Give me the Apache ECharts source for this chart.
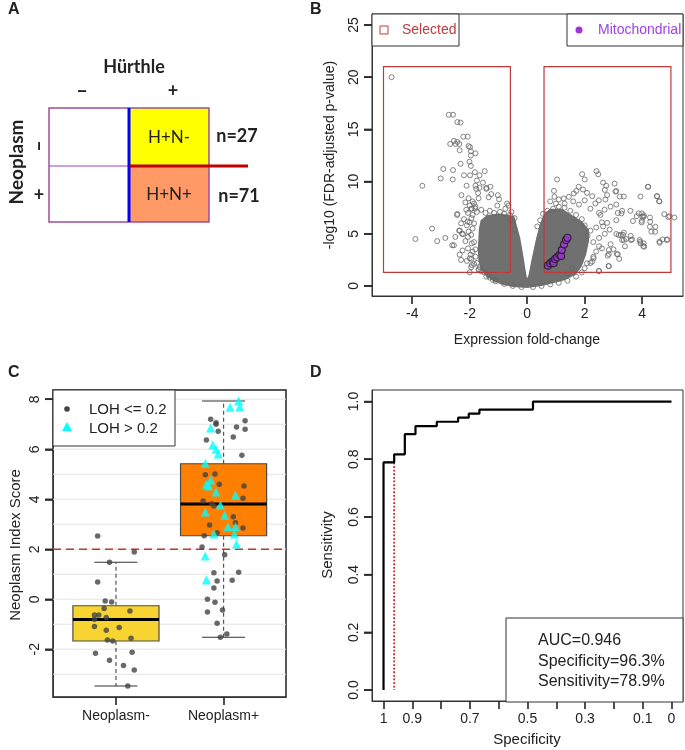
<!DOCTYPE html>
<html>
<head>
<meta charset="utf-8">
<script src="https://cdn.jsdelivr.net/npm/echarts@6/dist/echarts.min.js"></script>
<style>html,body{margin:0;padding:0;background:#fff}#main{width:685px;height:750px}</style>
</head>
<body>
<div id="main"></div>
<script>
var FONT = '"Liberation Sans", Arial, sans-serif';
var FONT_A = 'Lato, "Open Sans", sans-serif';

// ---- panel A
var cellLabels = ['H+N-', 'H+N+'];
var cellCounts = [27, 71];

// ---- panel B (volcano)
var fcTicks = [-4, -2, 0, 2, 4];
var pTicks = [0, 5, 10, 15, 20, 25];
var selectBoxes = [[-5, 1.3, -0.585, 21], [0.585, 1.3, 5, 21]];
// outline of the dense cloud of overlapping genes near the origin
var coreOutline = [[0.0,-0.2],[-0.5,-0.1],[-0.9,0.15],[-1.2,0.5],[-1.45,1.0],[-1.62,1.6],[-1.7,2.5],[-1.72,3.5],[-1.7,4.5],[-1.68,5.5],[-1.62,6.3],[-1.4,6.8],[-1.0,6.95],[-0.7,6.85],[-0.45,6.7],[-0.36,5.8],[-0.24,4.56],[-0.12,2.65],[-0.03,1.05],[0.0,0.75],[0.045,1.05],[0.16,2.65],[0.31,4.56],[0.45,6.0],[0.6,7.0],[0.8,7.4],[1.2,7.4],[1.5,6.9],[1.9,6.2],[2.15,5.4],[2.15,4.3],[2.05,3.0],[1.9,1.9],[1.7,1.1],[1.3,0.55],[0.9,0.25],[0.5,0.0]];
var genesLeft = [[-4.72,20.0],[-2.73,16.4],[-2.58,16.4],[-2.43,15.7],[-2.32,15.65],[-2.22,14.3],[-2.07,14.3],[-2.55,13.9],[-2.68,13.6],[-2.43,13.8],[-2.36,13.6],[-2.49,13.6],[-2.04,13.4],[-1.99,13.3],[-2.35,13.0],[-1.96,12.9],[-1.80,12.7],[-1.96,12.5],[-2.01,11.9],[-2.32,11.7],[-1.96,11.5],[-2.92,11.2],[-2.58,11.1],[-1.48,11.0],[-1.82,10.9],[-1.66,10.6],[-2.2,10.6],[-1.99,10.6],[-3.01,10.3],[-2.59,10.2],[-1.75,10.1],[-1.54,9.9],[-3.65,9.6],[-2.11,9.6],[-1.8,9.6],[-1.66,9.4],[-1.28,9.5],[-1.42,9.4],
  [-2.29,8.7],[-2.04,8.4],[-1.42,9.3],[-1.25,8.8],[-1.34,8.5],[-1.02,8.7],[-0.98,8.3],[-1.77,9.3],[-1.71,8.9],[-1.69,8.4],[-1.85,7.9],[-1.94,7.4],[-2.06,7.0],[-0.65,7.7],[-0.76,7.4],[-1.04,7.7],[-2.12,7.3],[-2.43,6.9],[-0.44,6.5],[-3.31,5.5],[-3.89,4.5],[-3.13,4.3],[-2.85,4.6],[-2.5,4.7],[-2.61,3.9],[-2.34,5.3],[-2.27,5.0],[-2.06,4.7],[-2.06,3.6],[-1.97,3.0],[-1.94,2.6],[-1.85,2.1],[-2.04,5.2],[-1.94,6.5],[-2.0,6.1],[-1.69,1.6],[-1.6,1.4],[-1.34,1.0],[-1.11,0.6],
  [-2.44,6.8],[-2.37,5.3],[-2.23,4.96],[-2.08,6.16],[-1.93,7.4],[-1.81,7.4],[-2.55,3.9],[-1.93,4.08],[-2.0,2.65],[-1.93,2.0],[-1.68,1.53],[-1.42,0.9],[-1.2,0.58],
  [-2.15,8.0],[-2.0,7.7],[-1.9,8.1],[-1.8,7.6],[-2.2,6.4],[-2.1,5.8],[-2.3,6.0],[-2.15,4.3],[-2.25,3.4],[-2.1,2.4],[-1.95,1.8],[-2.35,3.0],[-2.3,2.5],[-2.0,1.3],
  [-0.6,6.3],[-0.5,5.9],[-0.55,7.1],[-0.45,5.4],[-0.7,7.9]];
var genesRight = [[1.91,10.71],[2.41,11.0],[2.47,10.7],[1.04,10.2],[2.0,10.2],[2.64,9.9],[2.75,9.6],[2.70,9.2],[3.04,9.8],[3.10,9.1],[4.2,9.5],[1.79,9.5],[1.94,9.24],[1.71,9.11],[1.62,8.86],[1.45,8.54],[1.27,8.38],[1.10,8.28],[0.93,9.11],[0.95,8.54],[2.08,8.92],[2.26,8.6],[2.49,8.2],[2.37,7.9],[2.78,8.7],[2.72,8.28],[3.07,9.04],[3.22,8.57],[3.36,8.57],[3.94,8.57],[4.51,8.6],[4.6,8.1],[3.59,7.2],[3.88,6.95],[3.99,6.95],[4.05,6.63],[3.99,6.25],[3.15,6.99],[3.28,6.95],[3.68,6.22],[3.10,6.3],[4.77,6.88],[4.95,6.69],[5.12,6.56],[4.28,6.15],[4.46,5.67],[4.32,5.2],[4.86,4.4],[4.6,4.24],[4.05,4.08],[3.91,4.4],[3.36,4.4],[3.26,4.88],[3.10,4.98],[3.36,5.1],[3.61,4.4],[2.69,7.3],[2.55,6.8],[2.78,6.05],[2.64,5.7],[2.87,5.4],
  [3.18,4.88],[3.30,4.4],[3.65,4.46],[3.94,4.08],[4.07,3.76],[4.61,4.14],[2.84,3.44],[2.84,3.06],[3.15,3.03],[2.84,1.9],[2.49,1.43],[2.31,2.65],[2.26,2.33],[2.08,2.17],[1.56,1.69],[1.39,1.21],
  [4.91,6.6],[4.52,8.6],[4.59,8.12],[4.21,9.5],[4.06,6.76],[4.01,6.63],[3.81,6.69],[4.27,6.56],[3.98,6.09],[4.45,5.19],[4.27,5.67],[4.71,4.46],[4.87,4.46],[3.93,4.24],[4.04,3.82],[3.12,3.06],[2.83,1.91],[2.5,1.44],[3.6,4.8],[3.44,4.5],[3.33,4.9],
  [2.6,6.1],[2.4,5.6],[2.7,5.0],[2.5,4.6],[2.9,4.0],[2.6,3.6],[2.8,2.9],[3.0,3.5],[3.4,3.8],[3.2,2.6],[2.2,7.4],[2.5,7.0],[1.8,7.8],[2.0,8.2],[1.6,8.1],[1.3,7.9],[2.9,7.6],[3.1,7.8],[3.3,7.2],[1.0,7.9],[0.8,8.1]];
var genesEdge = [[-1.9,6.8],[-1.75,7.1],[-1.6,7.3],[-1.45,7.0],[-1.3,7.2],[-1.15,7.0],[-0.95,7.1],[-0.8,6.9],[-0.6,6.8],[-0.5,6.2],[-1.85,6.0],[-1.9,5.5],[-1.95,4.9],[-1.85,4.2],[-1.8,3.5],[-1.9,3.3],[-1.8,2.8],[-1.75,2.2],[-1.65,1.8],[-1.5,1.3],[-1.3,0.8],[-1.1,0.45],[-0.8,0.2],[-0.5,0.0],[-0.2,-0.1],[0.2,-0.1],[0.5,0.0],[0.8,0.15],[1.1,0.3],[1.4,0.5],[1.7,0.9],[1.9,1.3],[2.0,1.7],[2.2,2.2],[2.3,2.8],[2.4,3.3],[2.5,3.8],[2.3,4.2],[2.1,4.8],[2.2,5.3],[2.0,5.8],[1.9,6.4],[1.7,6.8],[1.5,7.2],[1.3,7.5],[1.1,7.6],[0.9,7.4],[0.7,7.2],[0.55,6.9],[0.45,6.3],[0.35,5.7]];
var mitoGenes = [[0.72,1.94],[0.80,2.17],[0.88,2.33],[0.92,2.17],[0.97,2.58],[1.04,2.74],[1.12,2.96],[1.18,2.87],[1.20,3.44],[1.28,3.98],[1.35,4.4],[1.40,4.62]];

// ---- panel C (box plots)
var groups = ['Neoplasm-', 'Neoplasm+'];
var scoreTicks = [-2, 0, 2, 4, 6, 8];
var boxStats = [[-3.47, -1.67, -0.81, -0.26, 1.48], [-1.52, 2.54, 3.81, 5.42, 7.93]];
var boxColors = ['#f7d431', '#ff7f00'];
var gridVals = [-3, -2, -1, 0, 1, 2, 3, 4, 5, 6, 7, 8];
var scoreCutoff = 2;
// [jittered group position, score]
var lohLow = [[0.83,2.53],[1.17,1.89],[0.94,1.48],[0.83,0.69],[0.90,-0.07],[0.96,-0.11],[0.89,-0.37],[1.13,-0.47],[0.80,-0.63],[0.84,-0.63],[0.80,-0.8],[0.91,-0.73],[0.80,-1.09],[1.03,-1.13],[0.91,-1.24],[0.92,-1.63],[0.97,-1.67],[1.14,-1.56],[0.81,-2.16],[1.15,-2.12],[0.94,-2.44],[1.07,-2.65],[1.17,-2.83],[1.11,-3.47],
  [1.88,7.2],[1.93,7.06],[1.93,7.0],[2.20,7.14],[2.12,6.89],[2.20,6.8],[1.95,6.72],[1.84,6.37],[2.09,6.49],[2.17,5.76],[1.83,4.98],[1.92,5.01],[1.96,4.6],[2.19,4.53],[2.18,4.04],[1.81,3.93],[1.89,3.82],[1.91,3.73],[2.09,3.3],[2.11,3.06],[1.87,2.97],[2.18,2.85],[1.94,2.66],[1.82,2.54],[1.80,2.09],[2.01,1.78],[1.91,1.06],[2.14,1.08],[1.94,0.73],[2.08,0.76],[1.91,0.45],[1.85,0.0],[1.92,-0.12],[1.99,-0.43],[1.85,-0.51],[1.94,-0.96],[2.03,-1.39],[1.97,-1.52]];
var lohHigh = [[2.14,7.94],[2.06,7.68],[2.15,7.70],[1.88,6.85],[1.90,6.17],[1.93,6.0],[1.95,5.81],[1.83,5.44],[1.88,4.77],[1.84,4.6],[1.86,4.53],[1.93,4.29],[2.11,4.16],[1.97,3.77],[1.83,3.49],[2.01,3.36],[2.04,2.9],[2.11,2.9],[2.10,2.61],[1.91,2.61],[2.12,2.21],[1.83,1.73],[1.84,0.77]];

// ---- panel D (ROC)
var rocSpec = [1, 1, 0.963, 0.926, 0.889, 0.815, 0.741, 0.704, 0.667, 0.481, 0.370, 0];
var rocSens = [0, 0.761, 0.789, 0.817, 0.887, 0.915, 0.930, 0.944, 0.958, 0.972, 1.0, 1.0];
var cutSpec = 0.963, cutSens = 0.789;
var specTicks = [0, 0.1, 0.2, 0.3, 0.4, 0.5, 0.6, 0.7, 0.8, 0.9, 1];
var specLabels = [1, 0.9, 0.7, 0.5, 0.3, 0.1, 0];
var sensTicks = [0, 0.2, 0.4, 0.6, 0.8, 1];

// x value at the left edge of each grid (D is reversed)
var xLeftEdge = [-5.4, 0.415, 1.04];
var yTickSets = [pTicks, scoreTicks, sensTicks];

function axis(gi, min, max, ticks, labels, extra) {
  var a = {
    type: 'value', gridIndex: gi, min: min, max: max,
    axisLine: {show: true, onZero: false, lineStyle: {color: '#333', width: 1}}, splitLine: {show: false},
    axisTick: {show: true, inside: false, length: 8, customValues: ticks, lineStyle: {color: '#222', width: 1.6}},
    axisLabel: {customValues: labels || ticks, fontSize: 14, color: '#222', fontFamily: FONT, margin: 11, hideOverlap: false, showMinLabel: true, showMaxLabel: true}
  };
  if (extra && extra.label) { Object.assign(a.axisLabel, extra.label); delete extra.label; }
  return Object.assign(a, extra || {});
}

// short dash at the left edge of a grid for every y tick value
function yTickMarks(gi) {
  return {
    type: 'scatter', xAxisIndex: gi, yAxisIndex: gi, clip: false, silent: true, z: 20,
    data: yTickSets[gi].map(function (v) { return [xLeftEdge[gi], v]; }),
    symbol: 'rect', symbolSize: [8, 1.6], symbolOffset: [-4, 0],
    itemStyle: {color: '#222'}
  };
}

function txt(t, x, y, size, opts) {
  opts = opts || {};
  return {
    type: 'text', x: x, y: y, rotation: opts.rot || 0, z: 100,
    style: {text: t, fontSize: size, fontFamily: opts.font || FONT, fontWeight: opts.bold ? 'bold' : 'normal',
      fill: opts.color || '#222', align: opts.align || 'center', verticalAlign: 'middle'}
  };
}

var graphics = [
  txt('A', 8, 10, 16, {bold: true, align: 'left'}),
  txt('B', 310, 10, 16, {bold: true, align: 'left'}),
  txt('C', 8, 373, 16, {bold: true, align: 'left'}),
  txt('D', 310, 373, 16, {bold: true, align: 'left'}),
  // panel A table
  {type: 'rect', shape: {x: 129, y: 108, width: 80, height: 58}, style: {fill: '#ffff00'}},
  {type: 'rect', shape: {x: 129, y: 166, width: 80, height: 56}, style: {fill: '#ff9966'}},
  {type: 'rect', shape: {x: 49, y: 108, width: 160, height: 114}, style: {fill: 'none', stroke: '#9c4f9c', lineWidth: 1.5}},
  {type: 'line', shape: {x1: 49, y1: 166, x2: 129, y2: 166}, style: {stroke: '#9a3fcf', lineWidth: 1}},
  {type: 'line', shape: {x1: 129, y1: 108, x2: 129, y2: 222}, style: {stroke: '#0000ff', lineWidth: 3}},
  {type: 'line', shape: {x1: 130, y1: 166, x2: 248, y2: 166}, style: {stroke: '#c00000', lineWidth: 3}},
  txt('Hürthle', 134, 67, 18, {bold: true, font: FONT_A}),
  txt('–', 82, 91, 20, {bold: true, font: FONT_A}),
  txt('+', 173, 91, 18, {bold: true, font: FONT_A}),
  txt('Neoplasm', 17, 162, 19, {bold: true, font: FONT_A, rot: Math.PI / 2}),
  txt('–', 39, 146, 20, {bold: true, font: FONT_A, rot: Math.PI / 2}),
  txt('+', 39, 195, 18, {bold: true, font: FONT_A}),
  txt(cellLabels[0], 169, 138, 17, {font: FONT_A}),
  txt(cellLabels[1], 169, 195, 17, {font: FONT_A}),
  txt('n=' + cellCounts[0], 237, 136, 18, {bold: true, font: FONT_A}),
  txt('n=' + cellCounts[1], 239, 196, 18, {bold: true, font: FONT_A}),
  // panel B legends
  {type: 'rect', shape: {x: 372, y: 14, width: 87, height: 32}, style: {fill: '#fff', stroke: '#333', lineWidth: 1}, z: 90},
  {type: 'rect', shape: {x: 380, y: 26, width: 8, height: 8}, style: {fill: 'none', stroke: '#c0393b', lineWidth: 1}, z: 100},
  txt('Selected', 402, 30, 14, {align: 'left', color: '#c0393b'}),
  {type: 'rect', shape: {x: 567, y: 14, width: 116, height: 32}, style: {fill: '#fff', stroke: '#333', lineWidth: 1}, z: 90},
  {type: 'circle', shape: {cx: 579, cy: 30, r: 3.5}, style: {fill: '#a134d8'}, z: 100},
  txt('Mitochondrial', 598, 30, 14, {align: 'left', color: '#a040e0'}),
  txt('Expression fold-change', 527, 340, 14),
  txt('-log10 (FDR-adjusted p-value)', 330, 155, 14, {rot: Math.PI / 2}),
  // panel C legend
  {type: 'rect', shape: {x: 53, y: 390, width: 122, height: 56}, style: {fill: '#fff', stroke: '#333', lineWidth: 1}, z: 90},
  {type: 'circle', shape: {cx: 67, cy: 409, r: 2.8}, style: {fill: '#444'}, z: 100},
  {type: 'polygon', shape: {points: [[67, 422], [62, 431], [72, 431]]}, style: {fill: '#00ffff'}, z: 100},
  txt('LOH <= 0.2', 89, 410, 15, {align: 'left'}),
  txt('LOH > 0.2', 89, 429, 15, {align: 'left'}),
  txt('Neoplasm Index Score', 16, 545, 15, {rot: Math.PI / 2}),
  // panel D legend
  {type: 'rect', shape: {x: 506, y: 618, width: 177, height: 84}, style: {fill: '#fff', stroke: '#333', lineWidth: 1}, z: 90},
  txt('AUC=0.946', 538, 641, 16, {align: 'left'}),
  txt('Specificity=96.3%', 538, 662, 16, {align: 'left'}),
  txt('Sensitivity=78.9%', 538, 682, 16, {align: 'left'}),
  txt('Specificity', 527, 740, 15),
  txt('Sensitivity', 328, 545, 15, {rot: Math.PI / 2})
];

var hollow = {color: 'transparent', borderColor: '#666', borderWidth: 1};

var option = {
  animation: false,
  backgroundColor: '#fff',
  grid: [
    {left: 372, top: 14, width: 311, height: 282, show: true, borderColor: '#333', borderWidth: 1},
    {left: 53, top: 390, width: 233, height: 307, show: true, borderColor: '#222', borderWidth: 1.5},
    {left: 372, top: 390, width: 311, height: 311, show: true, borderColor: '#333', borderWidth: 1}
  ],
  xAxis: [
    axis(0, -5.4, 5.42, fcTicks),
    axis(1, 0.415, 2.58, [1, 2], null, {label: {formatter: function (v) { return groups[Math.round(v) - 1]; }, margin: 12}}),
    axis(2, -0.04, 1.04, specTicks, specLabels, {inverse: true})
  ],
  yAxis: [
    axis(0, -0.96, 26.05, pTicks, null, {position: 'left', label: {rotate: 90, margin: 11}}),
    axis(1, -3.91, 8.37, scoreTicks, null, {position: 'left', label: {rotate: 90, margin: 11}}),
    axis(2, -0.038, 1.04, sensTicks, null, {position: 'left', label: {rotate: 90, margin: 11, formatter: function (v) { return v.toFixed(1); }}})
  ],
  graphic: graphics,
  series: [
    {
      type: 'custom', xAxisIndex: 0, yAxisIndex: 0, data: [[0, 0]], z: 1, silent: true,
      renderItem: function (params, api) {
        return {type: 'polygon', shape: {points: coreOutline.map(function (p) { return api.coord(p); })}, style: {fill: '#707070'}};
      }
    },
    {type: 'scatter', xAxisIndex: 0, yAxisIndex: 0, data: genesEdge.concat(genesLeft, genesRight), symbol: 'circle', symbolSize: 5, itemStyle: hollow, z: 2},
    {
      type: 'custom', xAxisIndex: 0, yAxisIndex: 0, data: selectBoxes, z: 3, silent: true,
      renderItem: function (params, api) {
        var a = api.coord([api.value(0), api.value(3)]);
        var b = api.coord([api.value(2), api.value(1)]);
        return {type: 'rect', shape: {x: a[0], y: a[1], width: b[0] - a[0], height: b[1] - a[1]}, style: {fill: 'none', stroke: '#c0393b', lineWidth: 1.2}};
      }
    },
    {type: 'scatter', xAxisIndex: 0, yAxisIndex: 0, data: mitoGenes, symbol: 'circle', symbolSize: 7, itemStyle: {color: '#a134d8', borderColor: '#1a1a1a', borderWidth: 1.2}, z: 4},
    yTickMarks(0),

    {
      type: 'custom', xAxisIndex: 1, yAxisIndex: 1, data: gridVals.map(function (v) { return [1, v]; }), z: 1, silent: true,
      renderItem: function (params, api) {
        var v = api.value(1);
        var a = api.coord([0.415, v]), b = api.coord([2.58, v]);
        return {type: 'line', shape: {x1: a[0], y1: a[1], x2: b[0], y2: b[1]}, style: {stroke: '#e3e3e3', lineWidth: 1}};
      }
    },
    {
      type: 'custom', xAxisIndex: 1, yAxisIndex: 1, data: [[1, scoreCutoff]], z: 2, silent: true,
      renderItem: function (params, api) {
        var v = api.value(1);
        var a = api.coord([0.415, v]), b = api.coord([2.58, v]);
        return {type: 'line', shape: {x1: a[0], y1: a[1], x2: b[0], y2: b[1]}, style: {stroke: '#c0392b', lineWidth: 1.5, lineDash: [8, 5]}};
      }
    },
    {
      type: 'custom', xAxisIndex: 1, yAxisIndex: 1, z: 3, silent: true,
      data: boxStats.map(function (s, i) { return [i + 1].concat(s); }),
      renderItem: function (params, api) {
        var x = api.value(0), lo = api.value(1), q1 = api.value(2), md = api.value(3), q3 = api.value(4), hi = api.value(5);
        var hw = 0.4, cw = 0.2;
        function c(px, py) { return api.coord([px, py]); }
        function seg(p, q, st) { return {type: 'line', shape: {x1: p[0], y1: p[1], x2: q[0], y2: q[1]}, style: st}; }
        var dash = {stroke: '#555', lineWidth: 1.2, lineDash: [4, 3]};
        var solid = {stroke: '#333', lineWidth: 1.2};
        var tl = c(x - hw, q3), br = c(x + hw, q1);
        return {type: 'group', children: [
          seg(c(x, q3), c(x, hi), dash),
          seg(c(x, q1), c(x, lo), dash),
          seg(c(x - cw, hi), c(x + cw, hi), solid),
          seg(c(x - cw, lo), c(x + cw, lo), solid),
          {type: 'rect', shape: {x: tl[0], y: tl[1], width: br[0] - tl[0], height: br[1] - tl[1]}, style: {fill: boxColors[params.dataIndex], stroke: '#4a4a4a', lineWidth: 1.2}},
          seg(c(x - hw, md), c(x + hw, md), {stroke: '#000', lineWidth: 3.2})
        ]};
      }
    },
    {type: 'scatter', xAxisIndex: 1, yAxisIndex: 1, data: lohLow, symbol: 'circle', symbolSize: 5.5, itemStyle: {color: '#444'}, z: 4},
    {type: 'scatter', xAxisIndex: 1, yAxisIndex: 1, data: lohHigh, symbol: 'triangle', symbolSize: 9, itemStyle: {color: '#00ffff'}, z: 4},
    yTickMarks(1),

    {type: 'line', xAxisIndex: 2, yAxisIndex: 2, data: [[1, cutSens], [cutSpec, cutSens], [cutSpec, 0]], showSymbol: false, lineStyle: {color: '#d02020', width: 1.8, type: 'dotted'}, z: 2, silent: true},
    {type: 'line', xAxisIndex: 2, yAxisIndex: 2, data: rocSpec.map(function (s, i) { return [s, rocSens[i]]; }), step: 'start', showSymbol: false, lineStyle: {color: '#000', width: 2.2}, z: 3, silent: true},
    yTickMarks(2)
  ]
};

var chart = echarts.init(document.getElementById('main'), null, {renderer: 'canvas'});
chart.setOption(option);
</script>
</body>
</html>
